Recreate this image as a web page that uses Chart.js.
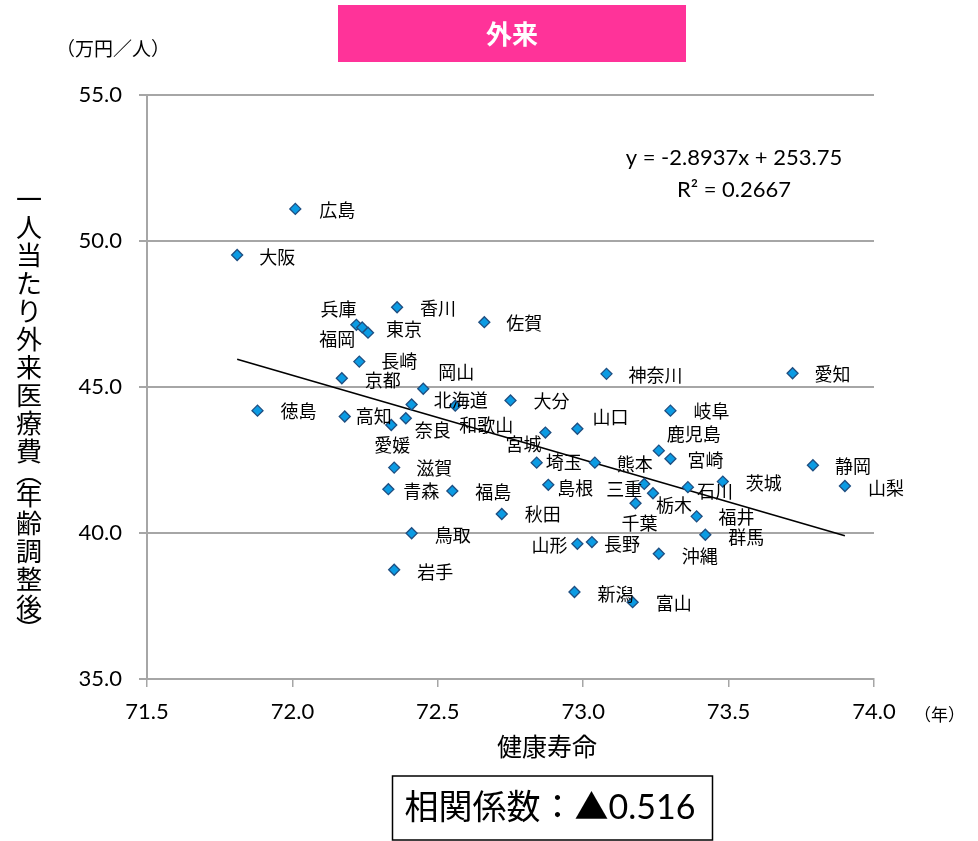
<!DOCTYPE html>
<html>
<head>
<meta charset="utf-8">
<script src="https://cdn.jsdelivr.net/npm/chart.js@4.4.1/dist/chart.umd.min.js"></script>
<style>
html,body{margin:0;padding:0;background:#fff;}
#wrap{width:978px;height:841px;position:relative;}
</style>
</head>
<body>
<div id="wrap"><canvas id="c" width="978" height="841"></canvas></div>
<script>
// ---- data ----
const prefectures = ['広島','大阪','兵庫','福岡','東京','香川','佐賀','長崎','京都','岡山','徳島','高知','北海道','和歌山','奈良','愛媛','滋賀','青森','福島','秋田','鳥取','岩手','神奈川','愛知','大分','岐阜','山口','宮城','鹿児島','宮崎','埼玉','熊本','静岡','島根','三重','栃木','石川','茨城','山梨','千葉','福井','群馬','山形','長野','沖縄','新潟','富山'];
const healthyLife = [72.01,71.81,72.22,72.24,72.26,72.36,72.66,72.23,72.17,72.45,71.88,72.18,72.41,72.56,72.39,72.34,72.35,72.33,72.55,72.72,72.41,72.35,73.08,73.72,72.75,73.30,72.98,72.87,73.26,73.30,72.84,73.04,73.79,72.88,73.21,73.24,73.36,73.48,73.90,73.18,73.39,73.42,72.98,73.03,73.26,72.97,73.17];
const outpatientCost = [51.10,49.52,47.13,47.04,46.86,47.73,47.22,45.87,45.30,44.94,44.19,43.99,44.40,44.36,43.93,43.70,42.24,41.50,41.44,40.65,39.99,38.74,45.45,45.47,44.54,44.19,43.57,43.44,42.82,42.54,42.41,42.41,42.32,41.65,41.68,41.36,41.57,41.76,41.61,41.02,40.57,39.94,39.63,39.69,39.29,37.98,37.63];
const xTicks = [71.5,72.0,72.5,73.0,73.5,74.0];
const yTicks = [35.0,40.0,45.0,50.0,55.0];
const slope = -2.8937, intercept = 253.75, r2 = 0.2667, corr = 0.516;

// ---- label layout (pixel offsets of each label from its point) ----
const labelOffsets = {
 '広島':[24,1],'大阪':[22,2],'兵庫':[-36,-16],'福岡':[-43,12],'東京':[18,-4],'香川':[23,1],'佐賀':[22,1],
 '長崎':[22,0],'京都':[23,2],'岡山':[15,-17],'徳島':[23,1],'高知':[11,0],'北海道':[22,-4],'和歌山':[4,19],
 '奈良':[9,12],'愛媛':[-17,20],'滋賀':[22,1],'青森':[15,2],'福島':[23,1],'秋田':[23,0],'鳥取':[23,2],'岩手':[23,2],
 '神奈川':[22,1],'愛知':[22,1],'大分':[23,1],'岐阜':[23,1],'山口':[15,-12],'宮城':[-40,12],'鹿児島':[8,-16],
 '宮崎':[17,1],'埼玉':[9,0],'熊本':[22,2],'静岡':[22,1],'島根':[9,3],'三重':[-38,5],'栃木':[3,12],'石川':[9,4],
 '茨城':[23,2],'山梨':[23,2],'千葉':[-14,20],'福井':[22,1],'群馬':[23,2],'山形':[-46,1],'長野':[12,2],'沖縄':[23,2],
 '新潟':[23,2],'富山':[23,1]
};

const CJK = "'Noto Sans CJK JP'";
const NUM = "Lato, 'Noto Sans CJK JP'";

const points = prefectures.map((p,i)=>({x:healthyLife[i], y:outpatientCost[i], name:p}));
const xMin = Math.min(...healthyLife), xMax = Math.max(...healthyLife);
const trend = [{x:xMin, y:slope*xMin+intercept},{x:xMax, y:slope*xMax+intercept}];

const decor = {
  id:'decor',
  afterDatasetsDraw(chart){
    const ctx = chart.ctx;
    const xs = chart.scales.x, ys = chart.scales.y;
    ctx.save();
    ctx.fillStyle = '#000';
    ctx.font = "18px " + CJK;
    ctx.textAlign = 'left';
    ctx.textBaseline = 'middle';
    points.forEach(pt=>{
      const px = xs.getPixelForValue(pt.x), py = ys.getPixelForValue(pt.y);
      const off = labelOffsets[pt.name] || [22,1];
      ctx.fillText(pt.name, px+off[0], py+off[1]);
    });
    ctx.restore();
  },
  afterDraw(chart){
    const ctx = chart.ctx;
    ctx.save();
    // title box
    ctx.fillStyle = '#FF3399';
    ctx.fillRect(338,5,348,57);
    ctx.fillStyle = '#fff';
    ctx.font = "bold 26px " + CJK;
    ctx.textAlign='center'; ctx.textBaseline='middle';
    ctx.fillText('外来', 512, 34);
    // unit
    ctx.fillStyle='#000';
    ctx.font = "19px " + CJK;
    ctx.textAlign='left';
    ctx.fillText('（万円／人）', 56, 49);
    ctx.font = "17px " + CJK;
    ctx.fillText('（年）', 914, 715);
    // y title vertical
    const yChars = ['一','人','当','た','り','外','来','医','療','費','︵','年','齢','調','整','後','︶'];
    ctx.font = "26px " + CJK;
    ctx.textAlign='center';
    let yy = 199;
    yChars.forEach((ch,i)=>{
      if(i>0){
        const paren = (ch==='︵'||ch==='︶'||yChars[i-1]==='︵'||yChars[i-1]==='︶');
        yy += paren ? 22 : 28;
      }
      ctx.fillText(ch, 29, yy);
    });
    // x title
    ctx.font = "25px " + CJK;
    ctx.fillText('健康寿命', 547, 746);
    // equation
    ctx.font = "22px " + NUM;
    ctx.fillText('y = ' + slope.toFixed(4) + 'x + ' + intercept.toFixed(2), 734, 158);
    ctx.fillText('R² = ' + r2.toFixed(4), 734, 190);
    // correlation box
    ctx.strokeStyle='#000'; ctx.lineWidth=1.5;
    ctx.strokeRect(392.5, 776, 320, 64);
    ctx.font = "34px " + NUM;
    ctx.fillText('相関係数：▲' + corr.toFixed(3), 550, 808);
    ctx.restore();
  }
};

new Chart(document.getElementById('c'), {
  type:'scatter',
  data:{
    datasets:[
      {
        label:'外来',
        data:points,
        pointStyle:'rectRot',
        pointRadius:5.5,
        pointHoverRadius:5.5,
        backgroundColor:'#0B9BE3',
        borderColor:'#1F4E80',
        borderWidth:1.3,
        order:1
      },
      {
        label:'trend',
        type:'line',
        data:trend,
        borderColor:'#000',
        borderWidth:1.6,
        pointRadius:0,
        fill:false,
        order:2
      }
    ]
  },
  options:{
    responsive:false,
    animation:false,
    events:[],
    layout:{padding:{top:95,right:104,left:0,bottom:122}},
    plugins:{legend:{display:false},tooltip:{enabled:false},title:{display:false}},
    scales:{
      x:{
        type:'linear', min:71.5, max:74.0,
        afterBuildTicks(s){ s.ticks = xTicks.map(v=>({value:v})); },
        afterFit(s){ s.height = 40; },
        grid:{display:true, drawOnChartArea:false, drawTicks:true, tickLength:8, color:'#A6A6A6', lineWidth:1.5},
        border:{display:true, color:'#A6A6A6', width:2},
        ticks:{color:'#000', font:{family:'Lato', size:22}, padding:12, maxRotation:0, callback:v=>v.toFixed(1)}
      },
      y:{
        type:'linear', min:35, max:55,
        afterBuildTicks(s){ s.ticks = yTicks.map(v=>({value:v})); },
        afterFit(s){ s.width = 147; },
        grid:{display:true, drawOnChartArea:true, drawTicks:true, tickLength:8, color:'#A6A6A6', lineWidth:2},
        border:{display:true, color:'#A6A6A6', width:2},
        ticks:{color:'#000', font:{family:'Lato', size:22}, padding:17, callback:v=>v.toFixed(1)}
      }
    }
  },
  plugins:[decor]
});
</script>
</body>
</html>
